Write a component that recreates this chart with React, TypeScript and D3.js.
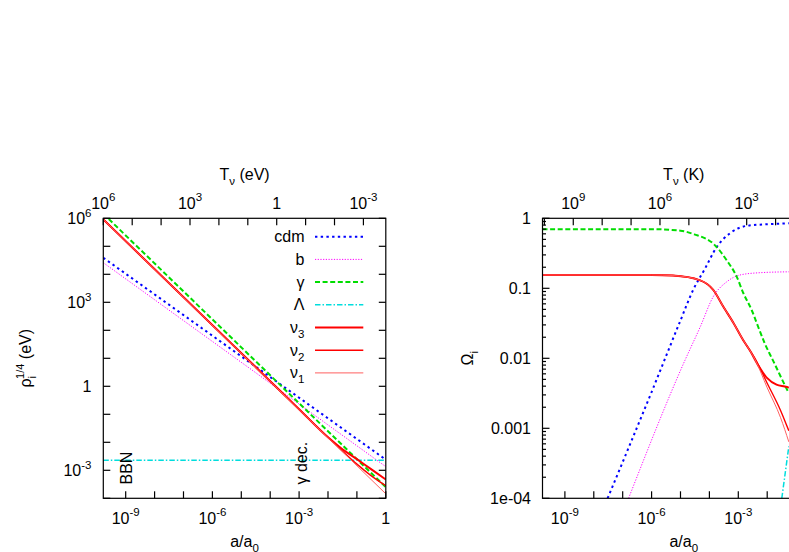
import * as d3 from "d3";

type Pt = [number, number];

// a/a0 at the left edge of both panels (T_nu = 1e6 eV)
const aMin = 1.68e-10;
const aMax = 1;
const tNu0eV = 1.68e-4; // T_nu today, eV
const tNu0K = 1.95; // T_nu today, K

// left panel: rho_i^(1/4) [eV] vs a/a0
const cdmRho: Pt[] = [[1.68e-10, 3.9e4], [1, 2.4e-3]];
const bRho: Pt[] = [[1.68e-10, 2.6e4], [1, 1.35e-3]];
const gammaRho: Pt[] = [[1.68e-10, 1.45e6], [1, 2.5e-4]];
const lambdaRho: Pt[] = [[1.68e-10, 2.3e-3], [1, 2.3e-3]];
const nu3Rho: Pt[] = [[1.68e-10, 9.1e5], [1e-3, 0.152], [1e-2, 1.5e-2], [3e-2, 5.9e-3], [0.1, 2.5e-3], [0.3, 1.12e-3], [1, 4.7e-4]];
const nu2Rho: Pt[] = [[1.68e-10, 9.1e5], [1e-3, 0.152], [1e-2, 1.53e-2], [3e-2, 5.1e-3], [0.1, 1.66e-3], [0.3, 6.6e-4], [1, 2.8e-4]];
const nu1Rho: Pt[] = [[1.68e-10, 9.1e5], [1, 1.45e-4]];

// right panel: Omega_i vs a/a0
const cdmOmega: Pt[] = [[3e-8, 1e-4], [1e-6, 3.3e-3], [9.5e-6, 0.033], [2.75e-5, 0.095], [7e-5, 0.19], [1.8e-4, 0.39], [5.1e-4, 0.61], [1.95e-3, 0.78], [1.6e-2, 0.83], [5.6e-2, 0.85]];
const bOmega: Pt[] = [[1.6e-7, 1e-4], [1.45e-5, 0.0095], [4.8e-5, 0.028], [1.36e-4, 0.076], [4e-4, 0.124], [1.15e-3, 0.155], [5.6e-3, 0.167], [5.6e-2, 0.172]];
const gammaOmega: Pt[] = [[1.68e-10, 0.7], [1e-6, 0.7], [1e-5, 0.665], [3e-5, 0.59], [1.4e-4, 0.43], [4e-4, 0.25], [8.8e-4, 0.147], [1.5e-3, 0.085], [2.9e-3, 0.049], [4.9e-3, 0.028], [8.4e-3, 0.016], [1.55e-2, 0.0095], [5e-2, 0.0035], [5.6e-2, 0.0032]];
const lambdaOmega: Pt[] = [[3.2e-2, 1e-4], [5.6e-2, 5.5e-4]];
const nu3Omega: Pt[] = [[1.68e-10, 0.155], [1e-6, 0.155], [5.5e-6, 0.152], [4.8e-5, 0.13], [1.36e-4, 0.095], [3e-4, 0.055], [6.8e-4, 0.032], [1.5e-3, 0.018], [2.5e-3, 0.013], [5e-3, 0.0078], [1e-2, 0.0052], [2.1e-2, 0.0042], [4.8e-2, 0.0039], [5.6e-2, 0.0038]];
const nu2Omega: Pt[] = [[1.68e-10, 0.155], [1e-6, 0.155], [5.5e-6, 0.152], [4.8e-5, 0.13], [1.36e-4, 0.095], [3e-4, 0.055], [6.8e-4, 0.032], [1.5e-3, 0.018], [2.5e-3, 0.013], [3.8e-3, 0.0099], [1e-2, 0.0044], [2.9e-2, 0.0018], [5.6e-2, 0.00092]];
const nu1Omega: Pt[] = [[1.68e-10, 0.155], [1e-6, 0.155], [5.5e-6, 0.152], [4.8e-5, 0.13], [1.36e-4, 0.095], [3e-4, 0.055], [6.8e-4, 0.032], [1.5e-3, 0.018], [2.5e-3, 0.013], [3.8e-3, 0.0096], [1e-2, 0.0038], [2.9e-2, 0.00142], [5.6e-2, 0.00064]];

// ticks (decade exponents) and labels
const aTickExp = d3.range(-9, 1);
const aLabelExp = [-9, -6, -3, 0];
const tEvTickExp = d3.range(6, -4, -1);
const tEvLabelExp = [6, 3, 0, -3];
const tKTickExp = d3.range(10, -1, -1);
const tKLabelExp = [9, 6, 3, 0];
const rhoTickExp = d3.range(-4, 7);
const rhoLabelExp = [-3, 0, 3, 6];
const omegaTickExp = [-4, -3, -2, -1, 0];
const omegaLabels = ["1e-04", "0.001", "0.01", "0.1", "1"];

// annotations in left panel (a, rho where the text starts)
const notes = [
  { text: "BBN", a: 1.7e-9, rho: 3.1e-4 },
  { text: "γ dec.", a: 1.9e-3, rho: 3.1e-4 },
];

const legendItems = [
  { key: "cdm", text: "cdm", sub: "" },
  { key: "b", text: "b", sub: "" },
  { key: "gamma", text: "γ", sub: "" },
  { key: "lambda", text: "Λ", sub: "" },
  { key: "nu3", text: "ν", sub: "3" },
  { key: "nu2", text: "ν", sub: "2" },
  { key: "nu1", text: "ν", sub: "1" },
];

const seriesStyle: Record<string, { color: string; width: number; dash?: string }> = {
  cdm: { color: "#0000ff", width: 2, dash: "2.4 3.3" },
  b: { color: "#ff00ff", width: 1, dash: "1.2 1.5" },
  gamma: { color: "#00dd00", width: 2, dash: "5 2.6" },
  lambda: { color: "#00dddd", width: 1.5, dash: "5.5 2 1.5 2" },
  nu3: { color: "#ff0000", width: 2 },
  nu2: { color: "#ff0000", width: 1.4 },
  nu1: { color: "#ff6060", width: 1 },
};

const leftSeries: [string, Pt[]][] = [
  ["cdm", cdmRho], ["b", bRho], ["gamma", gammaRho], ["lambda", lambdaRho],
  ["nu3", nu3Rho], ["nu2", nu2Rho], ["nu1", nu1Rho],
];
const rightSeries: [string, Pt[]][] = [
  ["cdm", cdmOmega], ["b", bOmega], ["gamma", gammaOmega], ["lambda", lambdaOmega],
  ["nu3", nu3Omega], ["nu2", nu2Omega], ["nu1", nu1Omega],
];

const W = 789;
const H = 552;
const LEFT = { x0: 103.3, x1: 385.8, y0: 218.3, y1: 498.3 };
const RIGHT = { x0: 542.5, x1: 825, y0: 218.3, y1: 498.3 };
const FONT = "'Liberation Sans', Arial, Helvetica, sans-serif";
const FS = 16;
const TICK = 7;

function Pow({ x, y, exp, anchor = "middle" }: { x: number; y: number; exp: number; anchor?: string }) {
  // right panel runs past the window edge: leave out labels that would fall outside
  if (x > W - 4) return null;
  if (exp === 0)
    return (
      <text x={x} y={y} textAnchor={anchor}>
        1
      </text>
    );
  return (
    <text x={x} y={y} textAnchor={anchor}>
      10
      <tspan dy={-7.5} fontSize={11.5}>
        {exp}
      </tspan>
    </text>
  );
}

export default function App() {
  const xL = d3.scaleLog().domain([aMin, aMax]).range([LEFT.x0, LEFT.x1]);
  const yL = d3.scaleLog().domain([1e-4, 1e6]).range([LEFT.y1, LEFT.y0]);
  const tL = d3.scaleLog().domain([tNu0eV / aMin, tNu0eV / aMax]).range([LEFT.x0, LEFT.x1]);
  const xR = d3.scaleLog().domain([aMin, aMax]).range([RIGHT.x0, RIGHT.x1]);
  const yR = d3.scaleLog().domain([1e-4, 1]).range([RIGHT.y1, RIGHT.y0]);
  const tR = d3.scaleLog().domain([tNu0K / aMin, tNu0K / aMax]).range([RIGHT.x0, RIGHT.x1]);

  const lineL = d3.line<Pt>().x((d) => xL(d[0])).y((d) => yL(d[1])).curve(d3.curveMonotoneX);
  const lineR = d3.line<Pt>().x((d) => xR(d[0])).y((d) => yR(d[1])).curve(d3.curveMonotoneX);

  // minor ticks 2..9 on the Omega axis
  const omegaMinor: number[] = [];
  omegaTickExp.slice(0, -1).forEach((e) => d3.range(2, 10).forEach((m) => omegaMinor.push(m * 10 ** e)));

  const legendY0 = 236.7;
  const legendDy = 22.7;

  const renderLine = (key: string, d: string | null, i: number) => {
    const s = seriesStyle[key];
    return (
      <path
        key={i}
        d={d ?? ""}
        fill="none"
        stroke={s.color}
        strokeWidth={s.width}
        strokeDasharray={s.dash}
      />
    );
  };

  return (
    <div style={{ position: "absolute", left: 0, top: 0, width: W, height: H, background: "#fff" }}>
      <svg width={W} height={H} style={{ display: "block" }} fontFamily={FONT} fontSize={FS}>
        <defs>
          <clipPath id="clipL">
            <rect x={LEFT.x0} y={LEFT.y0} width={LEFT.x1 - LEFT.x0} height={LEFT.y1 - LEFT.y0} />
          </clipPath>
          <clipPath id="clipR">
            <rect x={RIGHT.x0} y={RIGHT.y0} width={RIGHT.x1 - RIGHT.x0} height={RIGHT.y1 - RIGHT.y0} />
          </clipPath>
        </defs>

        {/* ---------- left panel ---------- */}
        <g clipPath="url(#clipL)">
          {leftSeries.map(([key, pts], i) => renderLine(key, lineL(pts), i))}
        </g>

        {notes.map((n) => (
          <text
            key={n.text}
            transform={`translate(${xL(n.a)},${yL(n.rho)}) rotate(-90)`}
            textAnchor="start"
          >
            {n.text}
          </text>
        ))}

        {/* legend */}
        {legendItems.map((it, i) => {
          const y = legendY0 + i * legendDy;
          const s = seriesStyle[it.key];
          return (
            <g key={it.key}>
              <text x={304.5} y={y + 5.5} textAnchor="end">
                {it.text}
                {it.sub && (
                  <tspan dy={5} fontSize={11.5}>
                    {it.sub}
                  </tspan>
                )}
              </text>
              <line x1={315} x2={363.3} y1={y} y2={y} stroke={s.color} strokeWidth={s.width} strokeDasharray={s.dash} />
            </g>
          );
        })}

        <g stroke="#000" strokeWidth={1.2}>
          {aTickExp.map((e) => (
            <line key={"lb" + e} x1={xL(10 ** e)} x2={xL(10 ** e)} y1={LEFT.y1} y2={LEFT.y1 - TICK} />
          ))}
          {tEvTickExp.map((e) => (
            <line key={"lt" + e} x1={tL(10 ** e)} x2={tL(10 ** e)} y1={LEFT.y0} y2={LEFT.y0 + TICK} />
          ))}
          {rhoTickExp.map((e) => (
            <g key={"ly" + e}>
              <line x1={LEFT.x0} x2={LEFT.x0 + TICK} y1={yL(10 ** e)} y2={yL(10 ** e)} />
              <line x1={LEFT.x1} x2={LEFT.x1 - TICK} y1={yL(10 ** e)} y2={yL(10 ** e)} />
            </g>
          ))}
          <rect x={LEFT.x0} y={LEFT.y0} width={LEFT.x1 - LEFT.x0} height={LEFT.y1 - LEFT.y0} fill="none" />
        </g>

        {aLabelExp.map((e) => (
          <Pow key={"lbl" + e} x={xL(10 ** e)} y={523.5} exp={e} />
        ))}
        {tEvLabelExp.map((e) => (
          <Pow key={"ltl" + e} x={tL(10 ** e)} y={208.5} exp={e} />
        ))}
        {rhoLabelExp.map((e) => (
          <Pow key={"lyl" + e} x={91.5} y={yL(10 ** e) + 6} exp={e} anchor="end" />
        ))}

        <text x={(LEFT.x0 + LEFT.x1) / 2} y={547} textAnchor="middle">
          a/a
          <tspan dy={4.5} fontSize={11.5}>0</tspan>
        </text>
        <text x={(LEFT.x0 + LEFT.x1) / 2} y={180} textAnchor="middle">
          T
          <tspan dy={4.5} fontSize={11.5}>ν</tspan>
          <tspan dy={-4.5}> (eV)</tspan>
        </text>
        <text transform={`translate(31,${(LEFT.y0 + LEFT.y1) / 2}) rotate(-90)`} textAnchor="middle">
          ρ
          <tspan dy={4.5} fontSize={11.5}>i</tspan>
          <tspan dx={-3} dy={-12} fontSize={11}>1/4</tspan>
          <tspan dy={7.5}> (eV)</tspan>
        </text>

        {/* ---------- right panel ---------- */}
        <g clipPath="url(#clipR)">
          {rightSeries.map(([key, pts], i) => renderLine(key, lineR(pts), i))}
        </g>

        <g stroke="#000" strokeWidth={1.2}>
          {aTickExp.map((e) => (
            <line key={"rb" + e} x1={xR(10 ** e)} x2={xR(10 ** e)} y1={RIGHT.y1} y2={RIGHT.y1 - TICK} />
          ))}
          {tKTickExp.map((e) => (
            <line key={"rt" + e} x1={tR(10 ** e)} x2={tR(10 ** e)} y1={RIGHT.y0} y2={RIGHT.y0 + TICK} />
          ))}
          {omegaTickExp.map((e) => (
            <line key={"ry" + e} x1={RIGHT.x0} x2={RIGHT.x0 + TICK} y1={yR(10 ** e)} y2={yR(10 ** e)} />
          ))}
          {omegaMinor.map((v) => (
            <line key={"rym" + v} x1={RIGHT.x0} x2={RIGHT.x0 + 3.5} y1={yR(v)} y2={yR(v)} />
          ))}
          <rect x={RIGHT.x0} y={RIGHT.y0} width={RIGHT.x1 - RIGHT.x0} height={RIGHT.y1 - RIGHT.y0} fill="none" />
        </g>

        {aLabelExp.map((e) => (
          <Pow key={"rbl" + e} x={xR(10 ** e)} y={523.5} exp={e} />
        ))}
        {tKLabelExp.map((e) => (
          <Pow key={"rtl" + e} x={tR(10 ** e)} y={208.5} exp={e} />
        ))}
        {omegaTickExp.map((e, i) => (
          <text key={"ryl" + e} x={531} y={yR(10 ** e) + 6} textAnchor="end">
            {omegaLabels[i]}
          </text>
        ))}

        <text x={(RIGHT.x0 + RIGHT.x1) / 2} y={547} textAnchor="middle">
          a/a
          <tspan dy={4.5} fontSize={11.5}>0</tspan>
        </text>
        <text x={(RIGHT.x0 + RIGHT.x1) / 2} y={180} textAnchor="middle">
          T
          <tspan dy={4.5} fontSize={11.5}>ν</tspan>
          <tspan dy={-4.5}> (K)</tspan>
        </text>
        <text transform={`translate(473,${(RIGHT.y0 + RIGHT.y1) / 2}) rotate(-90)`} textAnchor="middle">
          Ω
          <tspan dy={4.5} fontSize={11.5}>i</tspan>
        </text>
      </svg>
    </div>
  );
}
